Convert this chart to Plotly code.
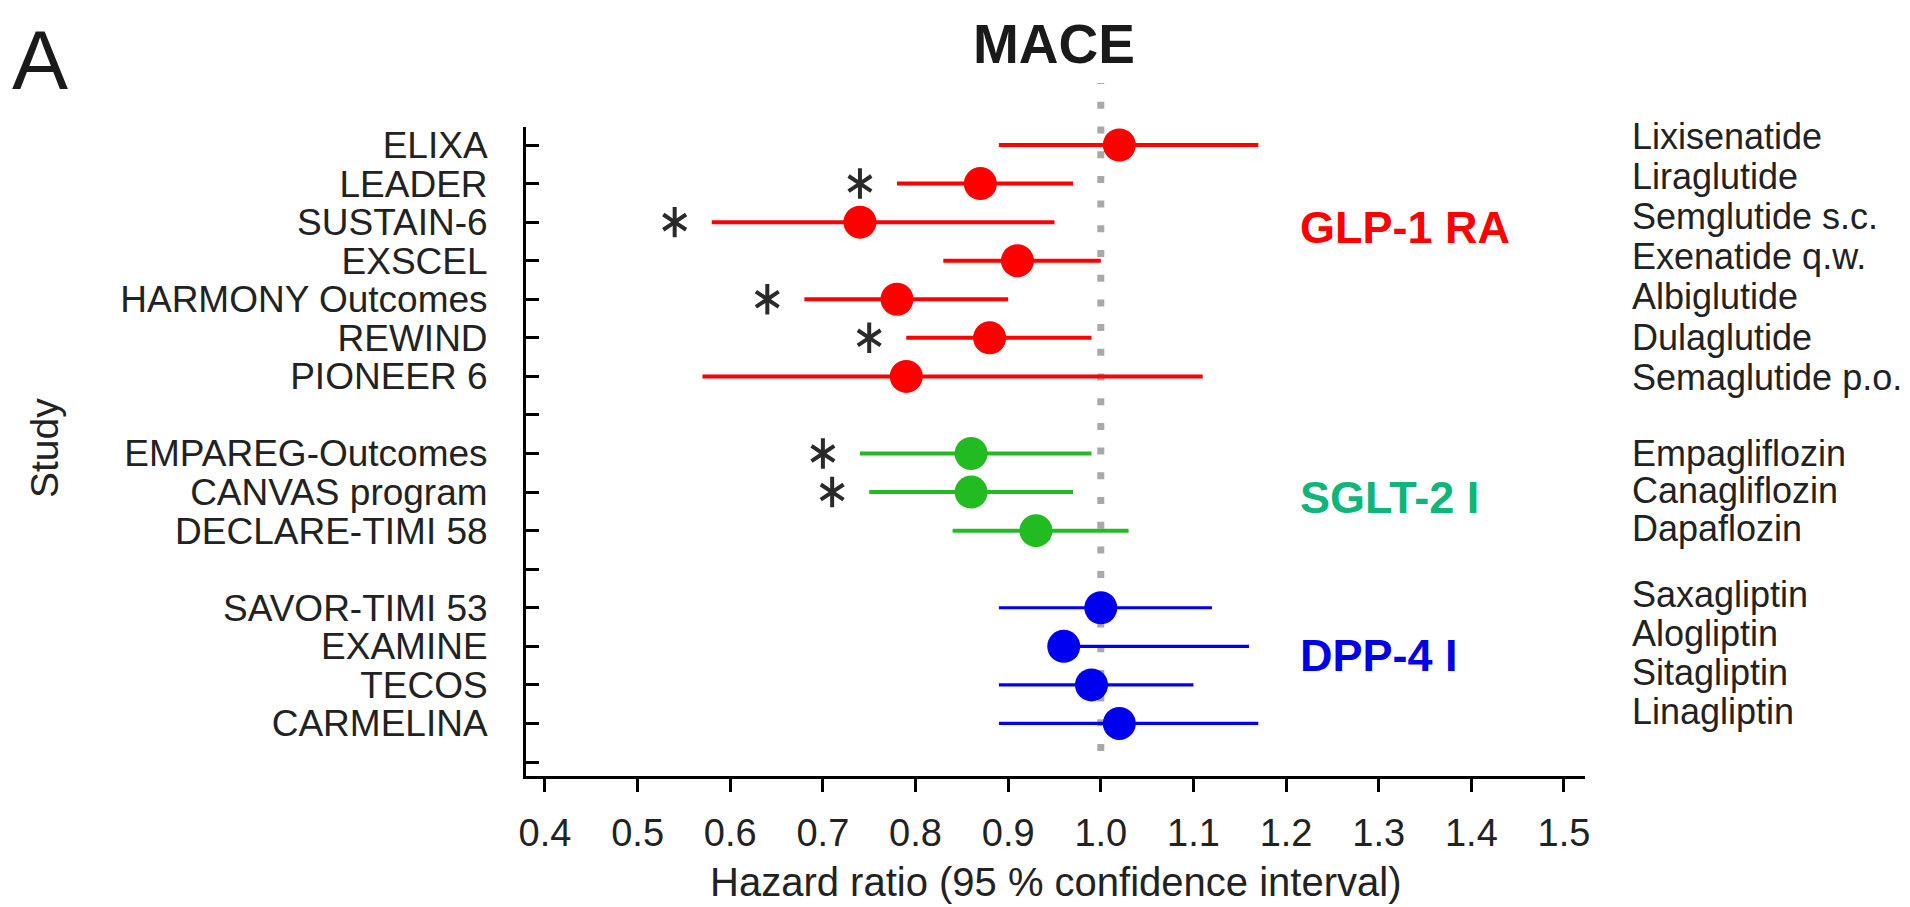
import plotly.graph_objects as go

# ---------------- data ----------------
studies = ["ELIXA", "LEADER", "SUSTAIN-6", "EXSCEL", "HARMONY Outcomes", "REWIND", "PIONEER 6",
           "EMPAREG-Outcomes", "CANVAS program", "DECLARE-TIMI 58",
           "SAVOR-TIMI 53", "EXAMINE", "TECOS", "CARMELINA"]
drugs = ["Lixisenatide", "Liraglutide", "Semglutide s.c.", "Exenatide q.w.", "Albiglutide",
         "Dulaglutide", "Semaglutide p.o.",
         "Empagliflozin", "Canagliflozin", "Dapaflozin",
         "Saxagliptin", "Alogliptin", "Sitagliptin", "Linagliptin"]
drug_classes = ["GLP-1 RA"] * 7 + ["SGLT-2 I"] * 3 + ["DPP-4 I"] * 4
hazard_ratio = [1.02, 0.87, 0.74, 0.91, 0.78, 0.88, 0.79,
                0.86, 0.86, 0.93,
                1.00, 0.96, 0.99, 1.02]
ci_lower = [0.89, 0.78, 0.58, 0.83, 0.68, 0.79, 0.57,
            0.74, 0.75, 0.84,
            0.89, 0.96, 0.89, 0.89]
ci_upper = [1.17, 0.97, 0.95, 1.00, 0.90, 0.99, 1.11,
            0.99, 0.97, 1.03,
            1.12, 1.16, 1.10, 1.17]
significant = [False, True, True, False, True, True, False,
               True, True, False,
               False, False, False, False]
class_order = ["GLP-1 RA", "SGLT-2 I", "DPP-4 I"]
x_tick_values = [0.4, 0.5, 0.6, 0.7, 0.8, 0.9, 1.0, 1.1, 1.2, 1.3, 1.4, 1.5]
x_tick_labels = ["0.4", "0.5", "0.6", "0.7", "0.8", "0.9", "1.0", "1.1", "1.2", "1.3", "1.4", "1.5"]

# ---------------- styling ----------------
FONT = "Liberation Sans, Arial, Helvetica, sans-serif"
TXT = "#222222"
point_colors = {"GLP-1 RA": "#ff0000", "SGLT-2 I": "#22bb22", "DPP-4 I": "#0000f0"}
label_colors = {"GLP-1 RA": "#ff0000", "SGLT-2 I": "#10b57a", "DPP-4 I": "#0000e6"}
bar_widths = {"GLP-1 RA": 4, "SGLT-2 I": 4, "DPP-4 I": 3.2}

W, H = 1910, 907
ML, MR, MT, MB = 518, 333, 119, 139
PW, PH = W - ML - MR, H - MT - MB


def px_x(px):
    return (px - ML) / PW


def px_y(py):
    return (H - MB - py) / PH


# row positions: one blank row after each class
rows = []
r = 0
prev = None
for c in drug_classes:
    if prev is not None and c != prev:
        r += 1
    r += 1
    rows.append(r)
    prev = c
n_rows = rows[-1] + 1
tick_vals = list(range(1, n_rows + 1))
tick_text = [""] * n_rows
for s, rr in zip(studies, rows):
    tick_text[rr - 1] = s

fig = go.Figure()

for cls in class_order:
    idx = [i for i, c in enumerate(drug_classes) if c == cls]
    xs = [hazard_ratio[i] for i in idx]
    ys = [rows[i] for i in idx]
    plus = [ci_upper[i] - hazard_ratio[i] for i in idx]
    minus = [hazard_ratio[i] - ci_lower[i] for i in idx]
    fig.add_trace(go.Scatter(
        x=xs, y=ys, mode="markers", name=cls,
        marker=dict(size=33, color=point_colors[cls], line=dict(width=0)),
        error_x=dict(type="data", symmetric=False, array=plus, arrayminus=minus,
                     width=0, thickness=bar_widths[cls], color=point_colors[cls]),
        showlegend=False, cliponaxis=False,
    ))

# significance asterisks, placed just left of the lower CI bound
star_offset = 0.04
sx = [ci_lower[i] - star_offset for i in range(len(studies)) if significant[i]]
sy = [rows[i] for i in range(len(studies)) if significant[i]]
for sym in ["y-up-open", "y-down-open"]:
    fig.add_trace(go.Scatter(
        x=sx, y=sy, mode="markers", showlegend=False, hoverinfo="skip",
        marker=dict(symbol=sym, size=19, color="#2a2a2a",
                    line=dict(width=4, color="#2a2a2a")),
    ))

# dotted reference line at HR = 1
fig.add_shape(type="line", xref="x", yref="paper", x0=1.0, x1=1.0,
              y0=px_y(743), y1=px_y(75),
              line=dict(color="#a9a9a9", width=7, dash="7px,17.7px"), layer="below")

annotations = []
# drug names on the right
label_shift = {"GLP-1 RA": (-0.22, 1.04), "SGLT-2 I": (0.0, 0.97), "DPP-4 I": (-0.34, 1.01)}
for cls in class_order:
    idx = [i for i, c in enumerate(drug_classes) if c == cls]
    off, step = label_shift[cls]
    for k, i in enumerate(idx):
        annotations.append(dict(
            text=drugs[i], xref="paper", yref="y", x=px_x(1622),
            y=rows[idx[0]] + off + k * step, xanchor="left", yanchor="middle",
            showarrow=False, font=dict(family=FONT, size=36, color=TXT)))

# class labels
class_label_y = {"GLP-1 RA": 3.13, "SGLT-2 I": 10.15, "DPP-4 I": 14.23}
for cls in class_order:
    annotations.append(dict(
        text="<b>%s</b>" % cls, xref="paper", yref="y", x=px_x(1290),
        y=class_label_y[cls], xanchor="left", yanchor="middle", showarrow=False,
        font=dict(family=FONT, size=45, color=label_colors[cls])))

# titles
annotations.append(dict(text="<b>MACE</b>", xref="paper", yref="paper",
                        x=px_x(1046), y=px_y(36), xanchor="center", yanchor="middle",
                        showarrow=False, font=dict(family=FONT, size=55, color="#1a1a1a")))
annotations.append(dict(text="A", xref="paper", yref="paper",
                        x=px_x(2), y=px_y(52), xanchor="left", yanchor="middle",
                        showarrow=False, font=dict(family=FONT, size=84, color="#1a1a1a")))
annotations.append(dict(text="Hazard ratio (95 % confidence interval)", xref="paper", yref="paper",
                        x=px_x(1047), y=px_y(874), xanchor="center", yanchor="middle",
                        showarrow=False, font=dict(family=FONT, size=40, color=TXT)))
annotations.append(dict(text="Study", xref="paper", yref="paper",
                        x=px_x(36), y=px_y(440), xanchor="center", yanchor="middle",
                        textangle=-90, showarrow=False,
                        font=dict(family=FONT, size=39, color=TXT)))

fig.update_layout(
    width=W, height=H, autosize=False,
    margin=dict(l=ML, r=MR, t=MT, b=MB, pad=0),
    paper_bgcolor="white", plot_bgcolor="white",
    font=dict(family=FONT, color=TXT),
    annotations=annotations,
    showlegend=False,
)
fig.update_xaxes(
    range=[0.3795, 1.5227], tickvals=x_tick_values, ticktext=x_tick_labels,
    showgrid=False, zeroline=False, showline=True, linewidth=3, linecolor="black",
    ticks="outside", ticklen=13, tickwidth=3, tickcolor="black",
    tickfont=dict(family=FONT, size=38, color=TXT), ticklabelstandoff=8,
)
fig.update_yaxes(
    range=[17.363, 0.533], tickvals=tick_vals, ticktext=tick_text,
    showgrid=False, zeroline=False, showline=True, linewidth=3, linecolor="black",
    ticks="inside", ticklen=13, tickwidth=3, tickcolor="black",
    tickfont=dict(family=FONT, size=37, color=TXT), ticklabelstandoff=28,
)

fig.write_html("out.html")
